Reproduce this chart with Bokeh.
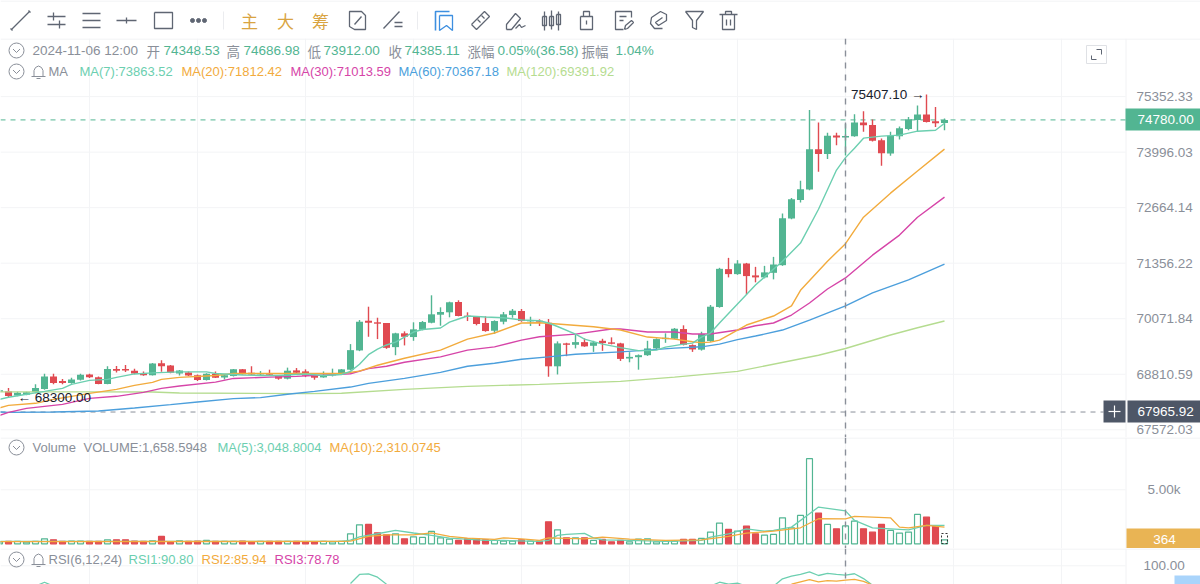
from bokeh.core.properties import value
from bokeh.embed import file_html
from bokeh.layouts import column
from bokeh.models import ColumnDataSource, FixedTicker, Label, LinearScale, PrintfTickFormatter, Range1d, Span
from bokeh.plotting import figure
from bokeh.resources import INLINE

green = '#52b592'
red = '#e04a51'
grey = '#8a8f99'
icon_grey = '#5f6673'
slate = '#4e5767'
rule = '#f3f4f6'
ma_colors = ['#6ccfb0', '#f2ab3d', '#d645a8', '#4c9fdc', '#b5dc90']
font = 'Liberation Sans'
cjk = 'Noto Sans CJK SC'
font_size = '13.5px'
small_size = '13px'

# candles, one per hour; the first one is cut by the left edge
open_prices = [68416, 68427, 68332, 68349, 68412, 68479, 68762, 68657, 68613, 68688, 68807,
               68746, 68590, 68928, 68928, 68891, 68836, 68791, 69058, 69006, 68829,
               68852, 68791, 68679, 68822, 68740, 68769, 68921, 68845, 68807, 68829,
               68778, 68711, 68898, 68875, 68791, 68740, 68784, 68822, 68914, 69349,
               70026, 69990, 69974, 69424, 69738, 69653, 69820, 69980, 70164, 70219,
               70457, 70141, 70118, 69974, 69797, 70003, 70157, 70249, 70012, 70026,
               69980, 68990, 69509, 69477, 69538, 69454, 69568, 69532, 69509, 69166,
               69196, 69241, 69395, 69607, 69616, 69836, 69470, 69367, 69561, 70341,
               71218, 71102, 71349, 71072, 71026, 71132, 71310, 72408, 72849, 73099,
               74068, 73948, 74400, 74348.53, 74384, 74716, 74658, 74287, 73965, 74384,
               74561, 74779, 74910, 74748, 74707]
high_prices = [68470, 68501, 68416, 68420, 68584, 68822, 68822, 68702, 68733, 68822, 68822,
               68762, 68990, 68996, 69019, 68937, 68875, 69065, 69127, 69019, 68905,
               68875, 68807, 68836, 68875, 68800, 68928, 68928, 68990, 68882, 68914,
               68784, 68960, 68951, 68921, 68800, 68875, 68937, 68928, 69493, 70042,
               70348, 70095, 69974, 69751, 69783, 69990, 70019, 70611, 70334, 70464,
               70496, 70219, 70134, 70127, 70035, 70226, 70295, 70295, 70118, 70058,
               70065, 69555, 69523, 69699, 69623, 69568, 69614, 69646, 69523, 69310,
               69258, 69568, 69623, 69738, 69859, 69921, 69486, 69774, 70387, 71248,
               71481, 71427, 71363, 71271, 71294, 71504, 72525, 72897, 73306, 75022,
               74716, 74464, 74464, 74686.98, 74918, 74990, 74789, 74328, 74488, 74619,
               74852, 75136, 75407.10, 75095, 74813]
low_prices = [68390, 68300, 68316, 68340, 68383, 68465, 68584, 68584, 68599, 68673, 68724,
              68584, 68584, 68852, 68859, 68813, 68778, 68784, 68868, 68836, 68784,
              68769, 68657, 68673, 68724, 68695, 68762, 68807, 68800, 68784, 68791,
              68688, 68695, 68822, 68746, 68688, 68733, 68762, 68813, 68898, 69333,
              69660, 69607, 69385, 69241, 69463, 69568, 69806, 69967, 69912, 70104,
              70127, 70019, 69921, 69774, 69728, 69944, 70095, 70003, 69905, 69905,
              68755, 68806, 69219, 69395, 69431, 69316, 69340, 69486, 69111, 69081,
              68914, 69225, 69379, 69522, 69607, 69463, 69316, 69345, 69545, 70325,
              71026, 71086, 70634, 70911, 71003, 70980, 71294, 72391, 72786, 73082,
              73522, 73828, 74165, 73912.00, 74367, 74488, 74255, 73667, 73907, 74304,
              74529, 74512, 74716, 74609, 74529]
close_prices = [68450, 68323, 68398, 68405, 68501, 68762, 68613, 68613, 68695, 68800, 68746,
                68590, 68928, 68891, 68898, 68829, 68791, 69051, 68990, 68845, 68898,
                68784, 68679, 68822, 68733, 68791, 68921, 68813, 68807, 68829, 68800,
                68711, 68891, 68845, 68778, 68733, 68791, 68800, 68921, 69356, 70003,
                69980, 69958, 69408, 69738, 69660, 69829, 69996, 70173, 70226, 70450,
                70134, 70111, 69951, 69790, 70019, 70173, 70256, 70019, 70042, 70003,
                68990, 69509, 69477, 69538, 69441, 69532, 69515, 69500, 69157, 69203,
                69241, 69395, 69607, 69637, 69843, 69477, 69372, 69722, 70348, 71225,
                71102, 71349, 71056, 71026, 71142, 71326, 72415, 72866, 73106, 74068,
                73948, 74391, 74352, 74385.11, 74716, 74651, 74270, 73972, 74391, 74578,
                74796, 74910, 74731, 74699, 74780]
volumes = [185, 216, 216, 155, 216, 464, 371, 216, 247, 247, 216,
           216, 371, 371, 371, 247, 216, 278, 680, 185, 278,
           216, 247, 309, 216, 216, 216, 247, 185, 216, 216,
           216, 216, 216, 185, 185, 216, 185, 216, 927, 1761,
           1792, 1020, 834, 927, 464, 649, 587, 1143, 556, 433,
           309, 464, 464, 371, 309, 247, 247, 371, 247, 247,
           2039, 1298, 556, 556, 556, 309, 402, 185, 309, 185,
           433, 464, 185, 247, 247, 402, 402, 494, 1082, 1916,
           1329, 1174, 1638, 927, 803, 865, 2410, 1483, 2627, 7880,
           2843, 1792, 1391, 1658.59, 2101, 1391, 1082, 1792, 1236, 989,
           1082, 2719, 2472, 1607, 364]
candles = list(range(-1, len(open_prices) - 1))

ma7_idx = [-1, 0, 2, 4, 6, 7, 9, 11, 12, 14, 16, 19, 22, 23, 26, 28, 30, 33, 35, 37, 38, 39, 40, 41, 42,
           43, 44, 45, 46, 48, 49, 50, 51, 53, 55, 57, 59, 60, 61, 63, 64, 66, 68, 70, 71, 72, 73, 75,
           76, 77, 78, 79, 81, 83, 86, 88, 90, 92, 93, 94, 95, 97, 99, 101, 103, 104]
ma7 = [68250, 68294, 68361, 68427, 68494, 68584, 68673, 68695, 68740, 68818, 68841, 68864, 68864, 68829,
       68795, 68784, 68784, 68818, 68784, 68806, 68875, 69035, 69253, 69379, 69473, 69539, 69654,
       69768, 69825, 69859, 69996, 70065, 70134, 70111, 70095, 70042, 70026, 69974, 69894, 69721,
       69607, 69493, 69413, 69345, 69345, 69356, 69424, 69493, 69515, 69653, 69745, 69974, 70411,
       70849, 71403, 71827, 72626, 73563, 73863.52, 74092, 74335, 74384, 74408, 74505, 74529, 74699]
ma20_idx = [-1, 0, 3, 5, 9, 12, 14, 16, 17, 19, 23, 25, 32, 37, 39, 41, 44, 48, 51, 54, 57, 59, 61, 65, 68,
            71, 74, 76, 77, 78, 79, 80, 82, 85, 87, 88, 91, 93, 95, 98, 101, 104]
ma20 = [68058, 68115, 68160, 68249, 68383, 68472, 68561, 68628, 68695, 68740, 68784, 68829, 68829, 68829,
        68882, 69013, 69173, 69356, 69607, 69745, 69974, 69980, 69951, 69889, 69813, 69653, 69607,
        69545, 69527, 69538, 69584, 69699, 69928, 70134, 70365, 70727, 71403, 71812.42, 72438, 73010,
        73539, 74068]
ma30_idx = [-1, 0, 2, 6, 9, 12, 15, 17, 19, 23, 25, 29, 32, 38, 40, 42, 44, 48, 51, 54, 57, 59, 63, 67, 68,
            71, 74, 76, 78, 81, 83, 85, 87, 89, 91, 93, 96, 99, 101, 104]
ma30 = [67892, 67959, 68048, 68137, 68271, 68316, 68405, 68494, 68546, 68635, 68717, 68746, 68762, 68822,
        68937, 68990, 69081, 69202, 69356, 69431, 69584, 69660, 69721, 69836, 69836, 69767, 69767,
        69722, 69722, 69813, 69912, 69974, 70157, 70434, 70756, 71013.59, 71544, 72015, 72438, 72914]
ma60_idx = [-1, 0, 5, 10, 14, 18, 21, 25, 28, 31, 34, 38, 40, 44, 48, 51, 54, 57, 60, 63, 68, 71, 74, 77,
            79, 81, 83, 86, 89, 93, 96, 100, 104]
ma60 = [67966, 67959, 67966, 67989, 68055, 68131, 68189, 68265, 68287, 68361, 68427, 68523, 68606, 68717,
        68852, 68990, 69058, 69150, 69202, 69264, 69317, 69356, 69402, 69431, 69493, 69596, 69676,
        69813, 70042, 70367.18, 70665, 70966, 71333]
ma120_idx = [-1, 10, 16, 19, 33, 37, 44, 51, 59, 68, 74, 81, 90, 93, 98, 101, 104]
ma120 = [68416, 68416, 68412, 68390, 68376, 68383, 68472, 68539, 68584, 68651, 68746, 68875, 69241,
         69391.92, 69699, 69865, 70019]

vol_ma5_idx = [-1, 37, 38, 39, 41, 43, 45, 47, 49, 53, 55, 59, 60, 61, 62, 64, 65, 66, 69, 73, 77, 78, 80,
               82, 84, 85, 87, 89, 90, 93, 94, 96, 98, 100, 102, 104]
vol_ma5 = [216, 216, 340, 650, 930, 1240, 1000, 780, 525, 310, 309, 216, 309, 775, 865, 958, 556, 371,
           309, 216, 309, 618, 927, 1390, 1174, 1236, 1545, 2781, 3400, 3048.80, 2163, 1483, 1391, 1298,
           1700, 1700]
vol_ma10_idx = [-1, 37, 38, 40, 42, 45, 47, 49, 51, 54, 55, 57, 59, 60, 64, 66, 69, 73, 77, 80, 82, 85, 88,
                90, 93, 94, 98, 99, 100, 102, 104]
vol_ma10 = [200, 216, 247, 680, 834, 834, 1020, 680, 525, 402, 556, 464, 309, 556, 464, 618, 433, 309,
            371, 680, 989, 1174, 1483, 2318, 2310.07, 2534, 2410, 1545, 1483, 1700, 1545]

# rsi only shows where it comes above the bottom edge of the window
rsi1_runs = [([3, 4, 5], [80, 83.9, 80]),
             ([38, 39, 40, 41, 42], [82.6, 91.5, 92, 88.8, 82]),
             ([78, 79, 80, 81, 82], [80, 83.9, 82, 83, 80]),
             ([85, 86, 87, 88, 89, 90, 91, 92, 93, 94, 95, 96],
              [80, 87.3, 89.8, 91.5, 94.1, 90.5, 92.5, 91.5, 90.80, 92.2, 87.5, 81])]
rsi2_idx = [87, 89, 90, 91, 92, 93, 94, 95, 96]
rsi2 = [82, 86.4, 84.2, 85.5, 85, 85.94, 86.6, 84.8, 81]

price_ticks = [75352.33, 73996.03, 72664.14, 71356.22, 70071.84, 68810.59, 67572.03]
volume_ticks = [5000]
rsi_ticks = [100]
grid_candles = [9, 21, 33, 45, 57, 69, 81, 93, 105, 117]
cross_candle = 93
last_price = 74780.00
cross_price = 67965.92

ohlc_row = [('2024-11-06 12:00', 32, grey, font), ('开', 146, grey, cjk), ('74348.53', 163, green, font),
            ('高', 226, grey, cjk), ('74686.98', 243, green, font), ('低', 307, grey, cjk),
            ('73912.00', 323, green, font), ('收', 388, grey, cjk), ('74385.11', 404, green, font),
            ('涨幅', 467, grey, cjk), ('0.05%(36.58)', 497, green, font), ('振幅', 581, grey, cjk),
            ('1.04%', 615, green, font)]
ma_row = [('MA', 48, grey), ('MA(7):73863.52', 79, ma_colors[0]), ('MA(20):71812.42', 181, ma_colors[1]),
          ('MA(30):71013.59', 290, ma_colors[2]), ('MA(60):70367.18', 398, ma_colors[3]),
          ('MA(120):69391.92', 506, ma_colors[4])]
volume_row = [('Volume', 32, grey), ('VOLUME:1,658.5948', 83, grey), ('MA(5):3,048.8004', 217, ma_colors[0]),
              ('MA(10):2,310.0745', 329, ma_colors[1])]
rsi_row = [('RSI(6,12,24)', 48, grey), ('RSI1:90.80', 128, ma_colors[0]), ('RSI2:85.94', 201, ma_colors[1]),
           ('RSI3:78.78', 274, ma_colors[2])]

shared_x = Range1d(-8 / 9, 1192 / 9)
axis_x = 1117 / 9


def make_pane(top, bottom, y_range=None, log=False, ticks=None, standoff=5):
    p = figure(frame_width=1200, frame_height=bottom - top, x_range=shared_x,
               y_range=y_range if y_range else Range1d(bottom, top),
               y_axis_type='log' if log else 'linear',
               y_axis_location='right' if ticks else None, x_axis_location=None,
               toolbar_location=None, output_backend='svg', min_border=0,
               background_fill_color='white', border_fill_color='white')
    # second set of ranges in page pixels for the header texts and small icons
    p.extra_x_ranges = {'px': Range1d(0, 1200)}
    p.extra_y_ranges = {'px': Range1d(bottom, top)}
    p.extra_x_scales = {'px': LinearScale()}
    p.extra_y_scales = {'px': LinearScale()}
    p.outline_line_color = None
    p.xgrid.visible = False
    p.ygrid.visible = False
    add_strips(p, [[(0, 0), (1200, 0)]], 0, top + 0.5, '#eef0f2', 1)
    if ticks:
        p.yaxis.fixed_location = axis_x
        p.yaxis.ticker = FixedTicker(ticks=ticks)
        p.yaxis.formatter = PrintfTickFormatter(format='%.2f')
        p.yaxis.axis_line_color = None
        p.yaxis.major_tick_line_color = None
        p.yaxis.minor_tick_line_color = None
        p.yaxis.major_label_standoff = standoff
        p.yaxis.major_label_text_font = font
        p.yaxis.major_label_text_font_size = font_size
        p.yaxis.major_label_text_color = grey
        p.segment(x0=grid_candles, x1=grid_candles, y0=bottom, y1=top, y_range_name='px',
                  line_color=rule, line_width=1)
        p.segment(x0=[0] * len(ticks), x1=[1125] * len(ticks), y0=ticks, y1=ticks, x_range_name='px',
                  line_color=rule, line_width=1)
        add_strips(p, [[(0, top), (0, bottom)]], 1125.5, 0, '#f1f2f4', 1)
    return p


def add_text(p, text, x, y, color=grey, size=font_size, text_font=font, align='left'):
    p.add_layout(Label(x=x, y=y, x_range_name='px', y_range_name='px', text=text, text_color=color,
                       text_font=text_font, text_font_size=size, text_align=align,
                       text_baseline='middle'))


def add_strips(p, strips, cx, cy, color=icon_grey, width=1.3):
    p.multi_line([[cx + a for a, b in s] for s in strips], [[cy + b for a, b in s] for s in strips],
                 line_color=color, line_width=width, x_range_name='px', y_range_name='px')


def add_box(p, left, right, top, bottom, color):
    p.quad(left=[left], right=[right], top=[top], bottom=[bottom], fill_color=color, line_color=None,
           x_range_name='px', y_range_name='px')


def add_collapse(p, cx, cy):
    p.scatter([cx], [cy], marker='circle', size=15, fill_color=None, line_color=grey, line_width=1,
              x_range_name='px', y_range_name='px')
    add_strips(p, [[(-3.5, -1.5), (0, 2), (3.5, -1.5)]], cx, cy, grey, 1)


def add_bell(p, cx, cy):
    bell = [[(-7, 5), (7, 5)], [(-4.5, 5), (-4.5, -1), (-3, -4), (0, -5.5), (3, -4), (4.5, -1), (4.5, 5)],
            [(-2, 7), (2, 7)]]
    add_strips(p, bell, cx, cy, grey, 1)


def add_crosshair(p):
    p.add_layout(Span(location=cross_candle, dimension='height', line_color=grey, line_dash=[6, 6],
                      line_width=1.4))


def create_toolbar():
    p = make_pane(0, 38)
    icons = {
        20: [[(-9, 9), (9, -9)], [(-10, 8), (-8, 10)], [(8, -10), (10, -8)]],
        56: [[(-9, -4), (9, -4)], [(-9, 4), (9, 4)], [(-3, -8), (-3, 0)], [(3, 0), (3, 8)]],
        91: [[(-9, -7), (9, -7)], [(-9, 0), (9, 0)], [(-9, 7), (9, 7)]],
        126: [[(-10, 0), (10, 0)], [(0, -3), (0, 3)]],
        163: [[(-9, -8), (9, -8), (9, 8), (-9, 8), (-9, -8)]],
        357: [[(-2, -9), (-8, -9), (-8, 6), (-3, 9), (8, 9), (8, -5), (4, -9), (-2, -9)], [(-3, 4), (4, -4)]],
        393: [[(-10, 8), (6, -9)], [(1, 2), (9, 2)], [(1, 6), (9, 6)]],
        480: [[(-9, 4), (4, -9), (9, -4), (-4, 9), (-9, 4)], [(-3, -1), (0, 2)], [(1, -5), (4, -2)]],
        515: [[(-9, 9), (-9, 4), (0, -7), (5, -2), (-4, 9), (-9, 9)], [(0, 8), (4, 4), (6, 7), (10, 5)]],
        551: [[(-7, -9), (-7, 10)], [(0, -10), (0, 9)], [(7, -9), (7, 10)],
              [(-9, -4), (-5, -4), (-5, 5), (-9, 5), (-9, -4)], [(-2, -4), (2, -4), (2, 5), (-2, 5), (-2, -4)],
              [(5, -6), (9, -6), (9, 4), (5, 4), (5, -6)]],
        586: [[(-6, -4), (6, -4), (6, 9), (-6, 9), (-6, -4)], [(-3, -4), (-3, -9), (3, -9), (3, -4)], [(0, 0), (0, 4)]],
        623: [[(8, -3), (8, -9), (-8, -9), (-8, 9), (0, 9)], [(-4, -4), (3, -4)], [(-4, 0), (0, 0)], [(1, 9), (2, 5), (8, 0), (10, 2), (4, 8), (1, 9)]],
        658: [[(4, 8), (-4, 8), (-8, 3), (-7, -3), (2, -9), (8, -6), (8, 0), (0, 5), (-3, 2), (4, -3)]],
        694: [[(-9, -9), (9, -9), (2, 0), (2, 9), (-2, 7), (-2, 0), (-9, -9)]],
        728: [[(-9, -6), (9, -6)], [(-3, -6), (-3, -9), (3, -9), (3, -6)], [(-6, -6), (-6, 9), (6, 9), (6, -6)],
              [(-2, -1), (-2, 5)], [(2, -1), (2, 5)]],
    }
    for cx, strips in icons.items():
        add_strips(p, strips, cx, 20)
    p.scatter([192, 198, 204], [20, 20, 20], marker='circle', size=4, color=icon_grey,
              x_range_name='px', y_range_name='px')
    add_strips(p, [[(0, -9), (0, 9)]], 223, 20, '#ebecef', 1)
    add_strips(p, [[(0, -9), (0, 9)]], 417, 20, '#ebecef', 1)
    add_strips(p, [[(-9, 10), (-9, -9), (5, -9)]], 444, 20, '#3d8fe0', 1.6)
    add_strips(p, [[(-5, -5), (8, -5), (8, 10), (2, 5), (-5, 10), (-5, -5)]], 444, 20, '#3d8fe0', 1.3)
    for text, x in [('主', 249), ('大', 285), ('筹', 320)]:
        add_text(p, text, x, 20, '#d9a441', '17px', cjk, 'center')
    return p


def create_price_pane():
    p = make_pane(38, 437, Range1d(67402, 76798), True, price_ticks)
    p.segment(x0=[0], x1=[1125], y0=[last_price], y1=[last_price], x_range_name='px',
              line_color=green, line_dash=value([5, 5]), line_width=1)
    p.segment(x0=[0], x1=[1103], y0=[cross_price], y1=[cross_price], x_range_name='px',
              line_color=grey, line_dash=value([5, 5]), line_width=1)

    ups = [c >= o for o, c in zip(open_prices, close_prices)]
    source = ColumnDataSource(data=dict(
        x=candles, high=high_prices, low=low_prices,
        top=[max(o, c) for o, c in zip(open_prices, close_prices)],
        bottom=[min(o, c) for o, c in zip(open_prices, close_prices)],
        color=[green if u else red for u in ups]))
    p.segment(x0='x', x1='x', y0='low', y1='high', source=source, line_color='color', line_width=1.4)
    p.vbar(x='x', width=0.78, top='top', bottom='bottom', source=source, fill_color='color', line_color=None)

    for idx, values, color in zip([ma120_idx, ma60_idx, ma30_idx, ma20_idx, ma7_idx],
                                  [ma120, ma60, ma30, ma20, ma7], ma_colors[::-1]):
        p.line(idx, values, line_color=color, line_width=1.4)
    add_crosshair(p)

    p.add_layout(Label(x=102, y=75407.10, text='75407.10 →', text_font=font, text_font_size=font_size,
                       text_color='#18202c', text_align='right', text_baseline='middle', x_offset=-2))
    p.add_layout(Label(x=1, y=68300, text='← 68300.00', text_font=font, text_font_size=font_size,
                       text_color='#18202c', text_align='left', text_baseline='middle'))

    add_collapse(p, 16, 50)
    for text, x, color, text_font in ohlc_row:
        add_text(p, text, x, 50, color, text_font=text_font)
    add_collapse(p, 16, 71)
    add_bell(p, 38, 71)
    for text, x, color in ma_row:
        add_text(p, text, x, 71, color, small_size)

    # fullscreen button
    add_strips(p, [[(-10, -9), (10, -9), (10, 9), (-10, 9), (-10, -9)]], 1096, 54, '#dfe1e5', 1)
    add_strips(p, [[(0, -5), (5, -5), (5, 0)], [(-5, 1), (-5, 5), (0, 5)]], 1096, 54, icon_grey, 1)

    # crosshair handle and the two price tags
    add_box(p, 1103, 1125, 400, 422, slate)
    add_strips(p, [[(-6, 0), (6, 0)], [(0, -6), (0, 6)]], 1114, 411, 'white', 1.2)
    add_box(p, 1127, 1200, 400, 422, slate)
    add_box(p, 1125, 1200, 108, 130, green)
    add_text(p, '74780.00', 1137, 119.3, 'white')
    add_text(p, '67965.92', 1137, 411, 'white')
    return p


def create_volume_pane():
    p = make_pane(437, 548, Range1d(-435, 9844), False, volume_ticks, 16)
    p.yaxis.major_label_overrides = {5000: '5.00k'}
    ups = [c >= o for o, c in zip(open_prices, close_prices)]
    source = ColumnDataSource(data=dict(
        x=candles, top=volumes,
        fill=['white' if u else red for u in ups],
        line=[green if u else red for u in ups]))
    p.vbar(x='x', width=0.66, top='top', bottom=0, source=source, fill_color='fill', line_color='line',
           line_width=1.2)
    p.line(vol_ma5_idx, vol_ma5, line_color=ma_colors[0], line_width=1.3)
    p.line(vol_ma10_idx, vol_ma10, line_color=ma_colors[1], line_width=1.3)
    add_crosshair(p)

    p.multi_line([[941, 947, 947, 941, 941]], [[533, 533, 543, 543, 533]], line_color='#333333',
                 line_width=1, line_dash=value([2, 2]), x_range_name='px', y_range_name='px')
    add_collapse(p, 16, 447)
    for text, x, color in volume_row:
        add_text(p, text, x, 447, color, small_size)
    add_box(p, 1126, 1200, 528, 548, '#e9b454')
    add_text(p, '364', 1164, 539, 'white', align='center')
    return p


def create_rsi_pane():
    p = make_pane(548, 584, Range1d(81.67, 116.96), False, rsi_ticks, 12)
    for idx, values in rsi1_runs:
        p.line(idx, values, line_color=ma_colors[0], line_width=1.3)
    p.line(rsi2_idx, rsi2, line_color=ma_colors[1], line_width=1.3)
    add_crosshair(p)
    add_collapse(p, 16, 559)
    add_bell(p, 38, 559)
    for text, x, color in rsi_row:
        add_text(p, text, x, 559, color, small_size)
    add_box(p, 1174, 1200, 575, 584, '#a9d4fb')
    return p


page = column(create_toolbar(), create_price_pane(), create_volume_pane(), create_rsi_pane(), spacing=0)
open('out.html', 'w').write(file_html(page, INLINE))
